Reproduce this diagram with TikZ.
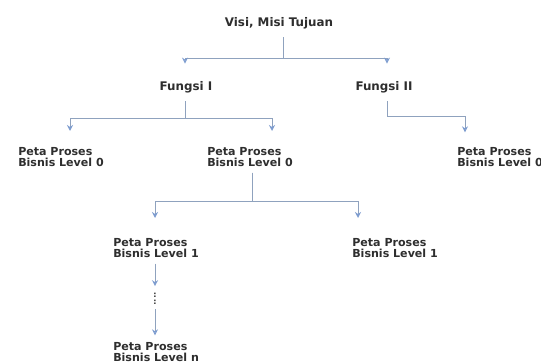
\documentclass[tikz,border=0pt]{standalone}
\usepackage{fontspec}
\setmainfont{DejaVu Sans}
\usetikzlibrary{arrows.meta}
\definecolor{TextGray}{HTML}{2E2E2E}
\definecolor{LineBlue}{HTML}{8FA2BE}
\definecolor{TipBlue}{HTML}{7D9CCF}
\tikzset{
  lbl/.style={font=\bfseries\fontsize{8.3}{8.6}\selectfont, text=TextGray, align=left, inner sep=0pt},
  head/.style={lbl, font=\bfseries\fontsize{8.9}{9}\selectfont},
  conn/.style={draw=LineBlue, line width=0.7pt},
  arr/.style={conn, -{Stealth[length=4.5pt,width=4.5pt,open,color=TipBlue]}}
}
\begin{document}
\begin{tikzpicture}[x=0.75pt,y=-0.75pt]
      \useasboundingbox (0,0) rectangle (541,363);
      \node[head] (visi) at (279,23) {Visi, Misi Tujuan};
      \node[head] (f1) at (186,87) {Fungsi I};
      \node[head] (f2) at (384,87) {Fungsi II};
      \node[lbl, anchor=north west] (p0a) at (18,147) {Peta Proses\\Bisnis Level 0};
      \node[lbl, anchor=north west] (p0b) at (207,147) {Peta Proses\\Bisnis Level 0};
      \node[lbl, anchor=north west] (p0c) at (457,147) {Peta Proses\\Bisnis Level 0};
      \node[lbl, anchor=north west] (p1a) at (113,238) {Peta Proses\\Bisnis Level 1};
      \node[lbl, anchor=north west] (p1b) at (352,238) {Peta Proses\\Bisnis Level 1};
      \node[lbl, font=\bfseries\fontsize{6}{5.5}\selectfont] (dots) at (155,299) {:\\:};
      \node[lbl, anchor=north west] (pn) at (113,342) {Peta Proses\\Bisnis Level n};
      \draw[arr] ([xshift=3.5pt,yshift=-6pt]visi.south) -- ++(0,21) -| ([xshift=-0.75pt,yshift=13pt]f1.north);
      \draw[arr] ([xshift=3.5pt,yshift=-6pt]visi.south) -- ++(0,21) -| ([xshift=2.25pt,yshift=13pt]f2.north);
      \draw[arr] ([xshift=-0.75pt,yshift=-6pt]f1.south) -- ++(0,17) -| ([xshift=39pt,yshift=12pt]p0a.north west);
      \draw[arr] ([xshift=-0.75pt,yshift=-6pt]f1.south) -- ++(0,17) -| ([xshift=48.75pt,yshift=12pt]p0b.north west);
      \draw[arr] ([xshift=2.25pt,yshift=-6pt]f2.south) -- ++(0,15) -| ([xshift=6pt,yshift=11pt]p0c.north west);
      \draw[arr] ([xshift=33.75pt,yshift=-4pt]p0b.south west) -- ++(0,29) -| ([xshift=31.5pt,yshift=15pt]p1a.north west);
      \draw[arr] ([xshift=33.75pt,yshift=-4pt]p0b.south west) -- ++(0,29) -| ([xshift=4.5pt,yshift=15pt]p1b.north west);
      \draw[arr] ([xshift=31.5pt,yshift=-4pt]p1a.south west) -- ([yshift=5pt]dots.north);
      \draw[arr] ([yshift=-3pt]dots.south) -- ([xshift=31.5pt,yshift=5pt]pn.north west);
\end{tikzpicture}
\end{document}
